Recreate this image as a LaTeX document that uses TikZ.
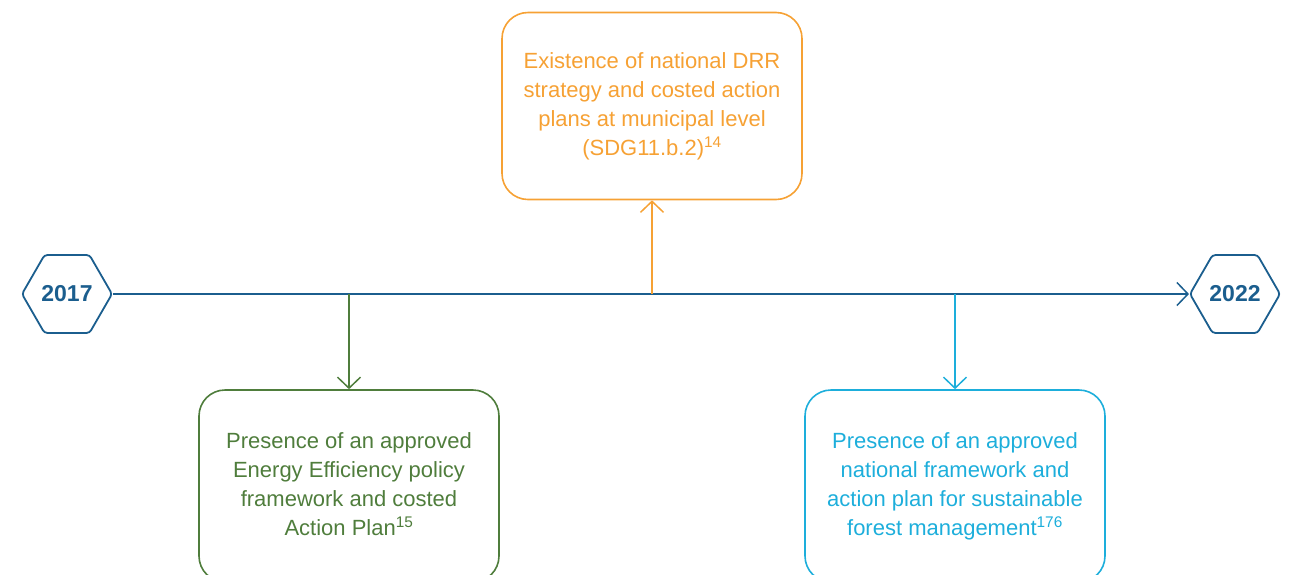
\documentclass[tikz,border=0pt]{standalone}
\usepackage{fontspec}
\setmainfont{Liberation Sans}
\usetikzlibrary{arrows.meta,positioning,shapes.geometric}
\definecolor{lineblue}{HTML}{1B5E8E}
\definecolor{drrorange}{HTML}{F6A134}
\definecolor{energygreen}{HTML}{4F7D3C}
\definecolor{forestcyan}{HTML}{1DAEDB}
\begin{document}
\begin{tikzpicture}[
    x=1pt,y=-1pt,
    year/.style={regular polygon,regular polygon sides=6,
        draw=lineblue,line width=1.8pt,rounded corners=3pt,minimum size=90pt,
        inner sep=0pt,text=lineblue,font=\fontsize{23}{27}\selectfont\bfseries},
    goal/.style={draw=#1,text=#1,line width=1.6pt,rounded corners=26pt,
        minimum width=300pt,minimum height=187pt,align=center,
        font=\fontsize{22}{29}\selectfont},
    link/.style={-{Straight Barb[length=11pt,width=23pt]},
        line width=1.5pt,draw=#1}]
\useasboundingbox (0,0) rectangle (1293,574);
\node[year] (start) at (67,294) {2017};
\node[year] (stop) at (1235,294) {2022};
\node[goal=drrorange] (drr) at (652,106) {\strut Existence of national DRR\\strategy and costed action\\plans at municipal level\\(SDG11.b.2)\textsuperscript{14}\strut};
\node[goal=energygreen,minimum height=192pt] (energy) at (349,486) {\strut Presence of an approved\\Energy Efficiency policy\\framework and costed\\Action Plan\textsuperscript{15}\strut};
\node[goal=forestcyan,minimum height=192pt] (forest) at (955,486) {\strut Presence of an approved\\national framework and\\action plan for sustainable\\forest management\textsuperscript{176}\strut};
\coordinate (drrfoot) at (652,294);
\coordinate (energyfoot) at (349,294);
\coordinate (forestfoot) at (955,294);
\draw[link=lineblue] (start.east)--(stop.west);
\draw[link=drrorange] (drrfoot)--(drr.south);
\draw[link=energygreen] (energyfoot)--(energy.north);
\draw[link=forestcyan] (forestfoot)--(forest.north);
\end{tikzpicture}
\end{document}
